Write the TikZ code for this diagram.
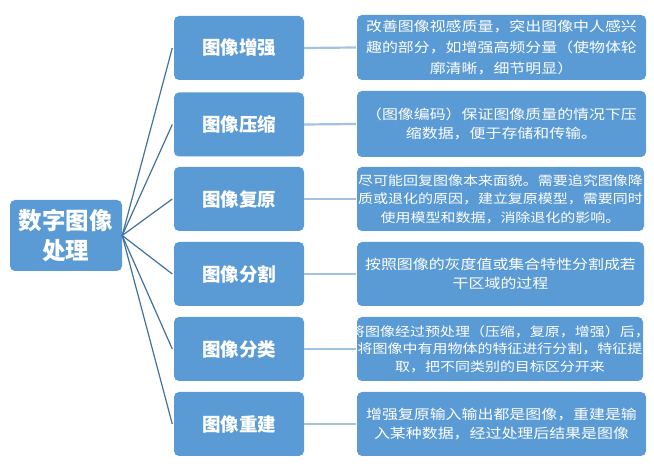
\documentclass[tikz,border=0pt]{standalone}
\usepackage{fontspec}
\newfontfamily\cjk{Noto Sans CJK SC}
\newfontfamily\cjkwide{Noto Sans CJK SC}[FakeStretch=1.18]
\definecolor{boxblue}{HTML}{5B9BD5}
\definecolor{rootline}{HTML}{41719C}
\definecolor{sideline}{HTML}{A3C1E0}
\tikzset{
  rootbox/.style={fill=boxblue, rounded corners=5pt, minimum width=112pt, minimum height=71pt, inner sep=0pt,
    text=white, align=center, font=\cjk\bfseries\fontsize{23.5}{30}\selectfont},
  midbox/.style={fill=boxblue, rounded corners=5pt, minimum width=130pt, minimum height=64pt, inner sep=0pt,
    text=white, font=\cjk\bfseries\fontsize{18.5}{22}\selectfont},
  rbox/.style={fill=boxblue, rounded corners=5pt, minimum width=289pt, minimum height=64pt, inner sep=0pt},
  rtext/.style={text=white, align=center, inner sep=0pt, font=\cjkwide\fontsize{13.5}{20}\selectfont},
  trunk/.style={draw=rootline, line width=1.2pt},
  branch/.style={draw=sideline, line width=2.2pt},
}
\begin{document}
\begin{tikzpicture}[x=1pt,y=1pt]
\useasboundingbox (0,0) rectangle (654,-470);
\node[rootbox] (root) at (66,-235.5) {数字图像\\处理};
\node[midbox] (m1) at (239,-48) {图像增强};
\node[midbox] (m2) at (239,-124.5) {图像压缩};
\node[midbox] (m3) at (239,-199) {图像复原};
\node[midbox] (m4) at (239,-274) {图像分割};
\node[midbox] (m5) at (239,-349) {图像分类};
\node[midbox] (m6) at (239,-424) {图像重建};
\node[rbox, minimum height=65pt] (r1) at (501.5,-47.5) {};
\node[rbox, minimum height=66pt] (r2) at (501.5,-124) {};
\node[rbox, minimum width=287pt] (r3) at (500.5,-199) {};
\node[rbox, minimum width=287pt] (r4) at (500.5,-274) {};
\node[rbox, minimum width=286pt] (r5) at (500,-349) {};
\node[rbox, minimum width=289pt] (r6) at (501.5,-424) {};
\node[rtext, font=\cjkwide\fontsize{13.5}{20.7}\selectfont] (t1) at (r1.center) {改善图像视感质量，突出图像中人感兴\\趣的部分，如增强高频分量（使物体轮\\廓清晰，细节明显）};
\node[rtext, font=\cjkwide\fontsize{13.5}{19.5}\selectfont] (t2) at (r2.center) {（图像编码）保证图像质量的情况下压\\缩数据，便于存储和传输。};
\node[rtext, font=\cjkwide\fontsize{12.7}{18.5}\selectfont] (t3) at (r3.center) {尽可能回复图像本来面貌。需要追究图像降\\质或退化的原因，建立复原模型，需要同时\\使用模型和数据，消除退化的影响。};
\node[rtext, font=\cjkwide\fontsize{13.5}{19}\selectfont] (t4) at (r4.center) {按照图像的灰度值或集合特性分割成若\\干区域的过程};
\node[rtext, font=\cjkwide\fontsize{12.7}{17.5}\selectfont] (t5) at (r5.center) {将图像经过预处理（压缩，复原，增强）后，\\将图像中有用物体的特征进行分割，特征提\\取，把不同类别的目标区分开来};
\node[rtext, font=\cjkwide\fontsize{13.5}{19}\selectfont] (t6) at (r6.center) {增强复原输入输出都是图像，重建是输\\入某种数据，经过处理后结果是图像};
\foreach \i in {1,...,6}{
  \draw[trunk] (root.east) -- ([xshift=-1.5pt]m\i.west);
  \draw[branch] (m\i.east) -- ([xshift=-1pt]r\i.west);
}
\end{tikzpicture}
\end{document}
